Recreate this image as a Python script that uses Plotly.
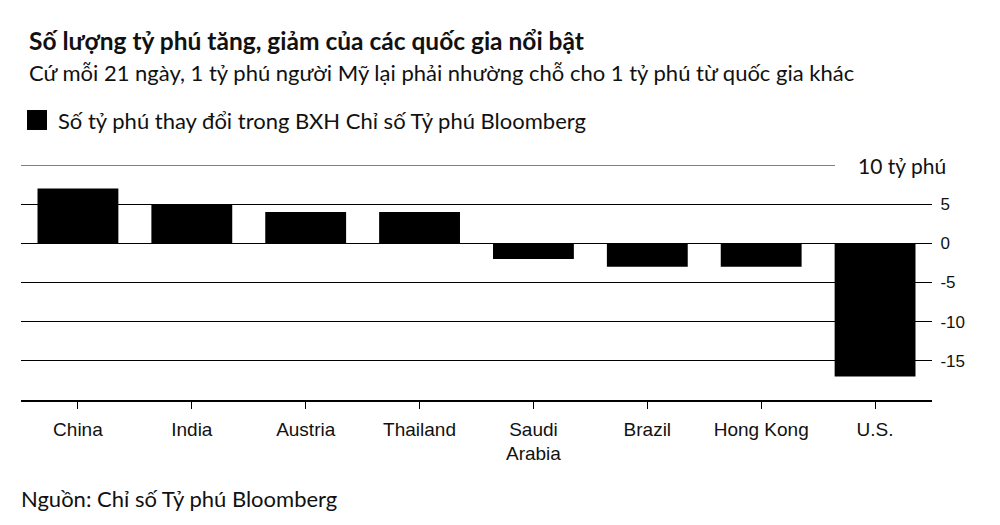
import plotly.graph_objects as go

countries = ["China", "India", "Austria", "Thailand", "Saudi<br>Arabia", "Brazil", "Hong Kong", "U.S."]
changes = [7, 5, 4, 4, -2, -3, -3, -17]
ytick_vals = [-15, -10, -5, 0, 5]
ytick_text = ["-15", "-10", "-5", "0", "5"]

title = "Số lượng tỷ phú tăng, giảm của các quốc gia nổi bật"
subtitle = "Cứ mỗi 21 ngày, 1 tỷ phú người Mỹ lại phải nhường chỗ cho 1 tỷ phú từ quốc gia khác"
legend_text = "Số tỷ phú thay đổi trong BXH Chỉ số Tỷ phú Bloomberg"
source = "Nguồn: Chỉ số Tỷ phú Bloomberg"
top_label = "10 tỷ phú"

TXT = "Lato"
AX = "Liberation Sans"

W, H = 992, 517
ML, MT, MR, MB = 13, 157, 68, 125
PW, PH = W - ML - MR, H - MT - MB


def px(fx):
    return (fx - ML) / PW


def py(fy):
    return (H - MB - fy) / PH


fig = go.Figure()
fig.add_trace(go.Bar(x=countries, y=changes, marker=dict(color="#000000", line=dict(width=0)),
                     width=0.71, showlegend=False))

fig.update_layout(
    width=W, height=H,
    margin=dict(l=ML, r=MR, t=MT, b=MB, pad=0),
    plot_bgcolor="white", paper_bgcolor="white",
    xaxis=dict(showgrid=False, showline=True, linecolor="#000", linewidth=1.5,
               ticks="outside", ticklen=7, tickcolor="#000", tickwidth=1,
               tickfont=dict(family=AX, size=19, color="#111"), ticklabelstandoff=4,
               zeroline=False),
    yaxis=dict(range=[-20, 10], side="right", tickvals=ytick_vals, ticktext=ytick_text,
               showgrid=True, gridcolor="#000", gridwidth=1, zeroline=False,
               ticks="outside", ticklen=4, tickcolor="white",
               tickfont=dict(family=AX, size=17, color="#111"), showline=False),
    font=dict(family=TXT),
)

# top gridline (10) stopping before its label
fig.add_shape(type="line", xref="paper", yref="y", x0=0, x1=px(827), y0=10, y1=10,
              line=dict(color="#000", width=1))
fig.add_annotation(xref="paper", yref="y", x=1.0, y=10, text=top_label, showarrow=False,
                   xanchor="left", yanchor="middle", xshift=-76,
                   font=dict(family=TXT, size=21, color="#111"))

fig.add_annotation(xref="paper", yref="paper", x=px(19), y=py(33),
                   text="<b>" + title + "</b>", showarrow=False, xanchor="left", yanchor="middle",
                   font=dict(family=TXT, size=24.5, color="#111"))
fig.add_annotation(xref="paper", yref="paper", x=px(19), y=py(64),
                   text=subtitle, showarrow=False, xanchor="left", yanchor="middle",
                   font=dict(family=TXT, size=22, color="#111"))

# legend
fig.add_shape(type="rect", xref="paper", yref="paper", x0=px(19), x1=px(39),
              y0=py(122), y1=py(102), fillcolor="#000", line=dict(width=0))
fig.add_annotation(xref="paper", yref="paper", x=px(48), y=py(112),
                   text=legend_text, showarrow=False, xanchor="left", yanchor="middle",
                   font=dict(family=TXT, size=22, color="#111"))

fig.add_annotation(xref="paper", yref="paper", x=px(11), y=py(490),
                   text=source, showarrow=False, xanchor="left", yanchor="middle",
                   font=dict(family=TXT, size=22, color="#111"))

fig.write_html("out.html")
